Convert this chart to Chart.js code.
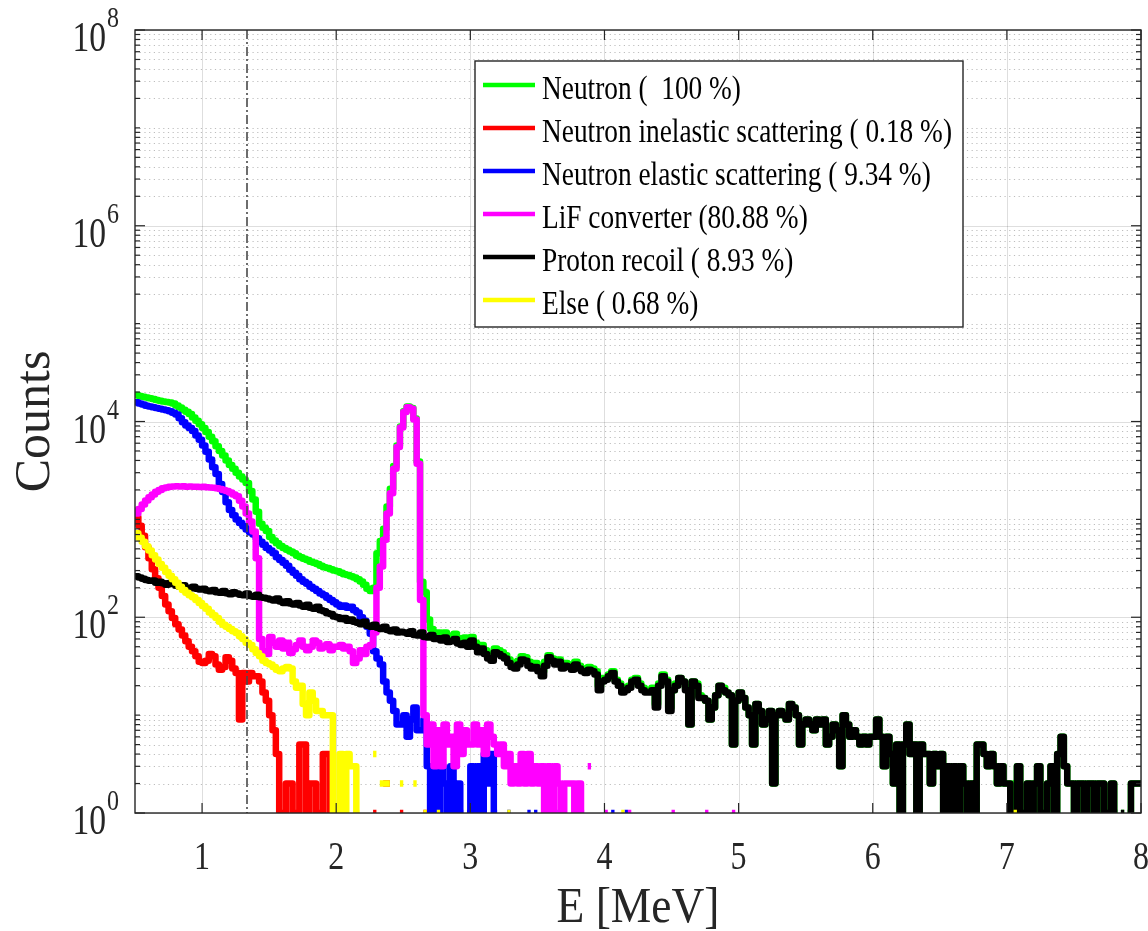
<!DOCTYPE html>
<html><head><meta charset="utf-8">
<script src="https://cdn.jsdelivr.net/npm/chart.js@4/dist/chart.umd.min.js"></script>
<style>html,body{margin:0;padding:0;background:#fff}canvas{display:block}</style>
</head><body>
<canvas id="c" width="1148" height="931"></canvas>
<script>
// ---- axes / bins ----
const BIN_START = 0.5;
const BIN_WIDTH = 0.025;
const X_MIN = 0.5, X_MAX = 8;
const Y_MIN = 1, Y_MAX = 1e8;
const X_TICKS = [1, 2, 3, 4, 5, 6, 7, 8];
const Y_TICK_EXPONENTS = [0, 2, 4, 6, 8];
const THRESHOLD_E = 1.335;
const X_TITLE = 'E [MeV]';
const Y_TITLE = 'Counts';

const seriesNames = [
  'Neutron (  100 %)',
  'Neutron inelastic scattering ( 0.18 %)',
  'Neutron elastic scattering ( 9.34 %)',
  'LiF converter (80.88 %)',
  'Proton recoil ( 8.93 %)',
  'Else ( 0.68 %)'
];
const seriesColors = ['#00ff00', '#ff0000', '#0000ff', '#ff00ff', '#000000', '#ffff00'];

// counts per 0.025 MeV bin starting at 0.5 MeV (null = empty bin)
const neutron = [
18600,18200,17900,17600,17300,17000,16600,16300,16000,15800,15600,15300,14600,13900,13200,12600,11900,11000,10200,9400,
8600,7800,7000,6300,5600,5000,4500,4000,3600,3300,3000,2750,2550,2350,1950,1600,1200,900,820,760,
660,610,570,535,510,490,470,450,425,410,395,385,370,360,350,335,325,318,310,300,
295,285,275,270,262,255,245,232,215,195,185,200,450,600,800,1350,2050,3500,5700,8900,
12700,14200,13700,10700,3900,230,180,95,76,70,70,66,70,63,64,68,61,58,62,57,
63,55,49,52,46,42,40,48,46,44,41,37,34,33,36,40,39,35,33,34,
31,28,35,41,38,35,37,33,34,33,31,35,32,30,29,31,30,28,20,24,
24,26,28,23,21,18,19,20,23,24,21,19,18,18,19,13,21,26,23,12,
18,21,24,22,19,8,22,21,16,15,14,9,12,16,20,19,17,16,5,14,
17,15,12,10,5,13,11,8,9,11,2,10,11,10,9,13,12,10,5,8,
9,8,7,9,8,9,5,6,8,7,3,10,8,6,7,6,5,6,5,6,
6,9,6,3,6,4,2,5,1,5,8,4,5,1,5,4,4,2,4,3,
4,1,3,1,3,1,3,2,1,2,1,5,5,4,3,4,3,2,3,2,
2,1,2,3,1,1,2,1,2,3,1,1,2,3,1,4,6,3,2,2,
1,2,2,1,2,2,1,2,2,1,1,2,1,null,1,null,1,2,2,2
];
const inelastic = [
1050,860,680,520,400,310,250,200,165,135,115,98,85,75,65,57,50,45,40,35,
34,36,42,40,33,29,31,39,36,30,27,9,27,22,27,25,25,22,17,14,
10,7,4,1,1,2,2,1,1,5,5,1,2,2,1,1,4,4,1,null,
null,null,null,null,null,null,null,null,null,null,null,1,null,null,2,2,null,null,null,1,
null,null,null,null,null,null,1,null,null,null,null,null,null,null,null,null,null,null,null,null,
null,null,null,null,null,null,null,null,null,null,null,null,null,null,null,null,null,null,null,null,
null,null,null,null,null,null,null,null,null,null,null,null,null,null,null,null,null,null,null,null,
null,null,null,null,null,null,null,null,null,null,null,null,null,null,null,null,null,null,null,null,
null,null,null,null,null,null,null,null,null,null,null,null,null,null,null,null,null,null,null,null,
null,null,null,null,null,null,null,null,null,null,null,null,null,null,null,null,null,null,null,null,
null,null,null,null,null,null,null,null,null,null,null,null,null,null,null,null,null,null,null,null,
null,null,null,null,null,null,null,null,null,null,null,null,null,null,null,null,null,null,null,null,
null,null,null,null,null,null,null,null,null,null,null,null,null,null,null,null,null,null,null,null,
null,null,null,null,null,null,null,null,null,null,null,null,null,null,null,null,null,null,null,null,
null,null,null,null,null,null,null,null,null,null,null,null,null,null,null,null,null,null,null,null
];
const elastic = [
15700,15300,14900,14500,14200,14000,13700,13500,13300,13000,12700,12300,11800,10800,9800,9100,8600,8000,7200,6500,
5700,4900,4100,3400,2900,2300,1900,1500,1250,1100,1000,920,850,790,740,700,640,590,550,510,
480,450,410,385,360,335,305,285,265,245,230,220,205,195,185,175,168,158,150,142,
135,128,132,125,128,118,112,100,92,80,68,45,38,33,22,17,14,11,8,8,
10,6,9,12,7,7,9,3,1,3,1,3,2,1,3,1,2,1,null,1,
3,1,3,1,4,2,4,1,null,null,null,1,null,null,null,null,null,1,null,1,
null,null,null,null,null,1,null,null,null,null,null,null,null,null,null,null,null,null,null,null,
null,null,1,null,null,null,1,null,null,null,null,null,null,null,null,null,null,null,null,null,
null,null,null,null,null,null,null,null,null,null,null,null,null,null,null,null,null,null,null,null,
null,null,null,null,null,null,null,null,null,null,null,null,null,null,null,null,null,null,null,null,
null,null,null,null,null,null,null,null,null,null,null,null,null,null,null,null,null,null,null,null,
null,null,null,null,null,null,null,null,null,null,null,null,null,null,null,null,null,null,null,null,
null,null,null,null,null,null,null,null,null,null,null,null,null,null,null,null,null,null,null,null,
null,null,null,null,null,null,null,null,null,null,null,null,null,null,null,null,null,null,null,null,
null,null,null,null,null,null,null,null,null,null,null,null,null,null,null,null,null,null,null,null
];
const lif = [
1150,1280,1420,1560,1680,1800,1920,2000,2080,2120,2150,2170,2180,2170,2180,2160,2170,2150,2160,2140,
2150,2130,2120,2100,2080,2040,2000,1950,1880,1800,1720,1550,1350,1150,950,750,400,60,45,42,
63,55,50,58,48,55,43,47,52,58,50,46,50,58,55,48,50,53,46,50,
50,52,48,50,45,34,38,46,42,50,52,70,200,330,620,1150,1850,3300,5500,8700,
12500,14000,13500,10500,3700,150,10,5,8,3,7,3,8,5,6,3,8,4,7,5,
5,8,5,7,4,8,6,5,4,5,3,4,2,3,2,4,2,4,2,3,
2,3,1,3,1,3,2,1,2,2,2,1,2,1,null,3,null,null,null,null,
1,null,null,null,null,null,null,1,null,null,null,null,null,null,null,null,null,null,null,null,
1,null,null,null,null,null,null,null,null,null,1,null,null,null,null,null,null,null,1,null,
null,null,null,null,null,null,null,null,null,null,null,null,null,null,null,null,null,null,null,null,
null,null,null,null,null,null,null,null,null,null,null,null,null,null,null,null,null,null,null,null,
null,null,null,null,null,null,null,null,null,null,null,null,null,null,null,null,null,null,null,null,
null,null,null,null,null,null,null,null,null,null,null,null,null,null,null,null,null,null,null,null,
null,null,null,null,null,null,null,null,null,null,null,null,null,null,null,null,null,null,null,null,
null,null,null,null,null,null,null,null,null,null,null,null,null,null,null,null,null,null,null,null
];
const protonRecoil = [
262,255,248,240,236,238,225,230,222,215,224,218,210,205,212,200,198,205,195,192,
195,188,184,190,180,178,185,176,172,180,175,170,168,175,165,162,170,160,158,155,
152,148,155,145,140,146,138,135,140,132,128,134,125,122,128,118,115,110,108,102,
100,96,98,92,95,90,88,85,90,82,80,84,78,76,80,74,72,75,70,71,
70,68,72,66,65,70,63,62,66,60,61,58,62,56,57,60,54,52,55,50,
58,50,44,48,42,38,36,44,42,40,38,34,31,30,33,37,36,32,30,31,
28,25,32,39,36,33,35,30,32,31,29,33,30,28,27,29,28,26,18,22,
23,25,27,22,20,17,18,19,22,23,20,18,17,17,18,12,20,25,22,11,
18,20,24,22,18,8,22,20,15,15,14,9,12,16,20,18,17,16,5,14,
17,15,12,10,5,13,11,8,9,11,2,10,11,10,9,13,12,10,5,8,
9,8,7,9,8,9,5,6,8,7,3,10,8,6,7,6,5,6,5,6,
6,9,6,3,6,4,2,5,1,5,8,4,5,1,5,4,4,2,4,3,
4,1,3,1,3,1,3,2,1,2,1,5,5,4,3,4,3,2,3,2,
2,1,1,3,1,1,2,1,2,3,1,1,2,3,1,4,6,3,2,2,
1,2,2,1,2,2,1,2,2,1,1,2,1,null,1,null,1,2,2,2
];
const other = [
720,650,590,530,480,430,390,350,320,290,265,245,225,205,190,178,168,160,150,140,
130,122,112,105,98,90,84,80,76,72,69,64,60,55,52,47,43,40,36,34,
33,31,29,28,30,31,30,22,19,20,13,10,17,14,11,11,10,10,10,1,
1,4,1,4,3,3,1,null,null,null,null,4,null,2,2,2,null,null,null,2,
null,null,null,2,null,null,1,null,null,null,1,null,null,null,null,null,null,null,null,null,
null,null,null,null,null,null,null,null,null,null,null,1,null,null,null,null,null,null,null,null,
null,null,null,null,null,null,null,null,null,null,null,null,null,null,null,null,null,null,null,null,
null,null,null,null,null,1,null,null,null,null,null,null,null,null,null,null,null,null,null,null,
null,null,null,null,null,null,null,null,null,null,null,null,null,null,null,null,null,null,null,null,
null,null,null,null,null,null,null,null,null,null,null,null,null,null,null,null,null,null,null,null,
null,null,null,null,null,null,null,null,null,null,null,null,null,null,null,null,null,null,null,null,
null,null,null,null,null,null,null,null,null,null,null,null,null,null,null,null,null,null,null,null,
null,null,null,null,null,null,null,null,null,null,null,null,null,null,null,null,null,null,null,null,
null,null,1,null,null,null,null,null,null,null,null,null,null,null,null,null,null,null,null,null,
null,null,null,null,null,null,null,null,null,null,null,null,null,null,null,null,null,null,null,null
];
const seriesValues = [neutron, inelastic, elastic, lif, protonRecoil, other];

// ---- build stairs points from bin values ----
function stairs(vals) {
  const pts = [];
  vals.forEach((v, i) => {
    const x0 = BIN_START + i * BIN_WIDTH, x1 = BIN_START + (i + 1) * BIN_WIDTH;
    if (v == null) { pts.push({ x: x0 + BIN_WIDTH / 2, y: null }); return; }
    pts.push({ x: x0, y: v }, { x: x1, y: v });
  });
  return pts;
}

const SERIF = '"Liberation Serif", "Times New Roman", serif';
const AXIS_COLOR = '#262626';

function txt(ctx, s, x, y, size, align, sx) {
  ctx.save();
  ctx.font = size + 'px ' + SERIF;
  ctx.translate(x, y);
  ctx.scale(sx, 1);
  ctx.textAlign = align;
  ctx.textBaseline = 'alphabetic';
  ctx.fillText(s, 0, 0);
  ctx.restore();
}
function seg(ctx, x0, y0, x1, y1) { ctx.beginPath(); ctx.moveTo(x0, y0); ctx.lineTo(x1, y1); ctx.stroke(); }

const decor = {
  id: 'decor',
  beforeDraw(chart) {
    const ctx = chart.ctx;
    ctx.save(); ctx.fillStyle = '#fff'; ctx.fillRect(0, 0, chart.width, chart.height); ctx.restore();
  },
  beforeDatasetsDraw(chart) {
    const { ctx, chartArea: a, scales: { x, y } } = chart;
    ctx.save();
    ctx.lineWidth = 1;
    // minor y grid (dotted)
    ctx.strokeStyle = 'rgba(0,0,0,0.26)';
    ctx.setLineDash([1.2, 3.5]);
    for (let e = 0; e < 8; e++) {
      for (let m = 1; m < 10; m++) {
        if (m === 1 && e % 2 === 0) continue;
        const py = Math.round(y.getPixelForValue(m * Math.pow(10, e))) + 0.5;
        seg(ctx, a.left, py, a.right, py);
      }
    }
    ctx.setLineDash([]);
    // major grid
    ctx.strokeStyle = 'rgba(0,0,0,0.13)';
    Y_TICK_EXPONENTS.forEach(e => {
      const py = Math.round(y.getPixelForValue(Math.pow(10, e))) + 0.5;
      seg(ctx, a.left, py, a.right, py);
    });
    X_TICKS.forEach(v => {
      const px = Math.round(x.getPixelForValue(v)) + 0.5;
      seg(ctx, px, a.top, px, a.bottom);
    });
    ctx.restore();
  },
  afterDatasetsDraw(chart) {
    const { ctx, chartArea: a, scales: { x, y } } = chart;
    ctx.save();
    // threshold dash-dot line
    ctx.strokeStyle = '#4a4a4a';
    ctx.lineWidth = 1.6;
    ctx.setLineDash([9, 3, 2, 3]);
    const tx = x.getPixelForValue(THRESHOLD_E);
    seg(ctx, tx, a.top, tx, a.bottom);
    ctx.setLineDash([]);

    // axes box
    ctx.strokeStyle = AXIS_COLOR;
    ctx.lineWidth = 1.4;
    ctx.strokeRect(a.left, a.top, a.right - a.left, a.bottom - a.top);

    // ticks
    ctx.lineWidth = 1.2;
    const MAJ = 10, MIN = 5;
    X_TICKS.forEach(v => {
      const px = x.getPixelForValue(v);
      seg(ctx, px, a.bottom, px, a.bottom - MAJ);
      seg(ctx, px, a.top, px, a.top + MAJ);
    });
    for (let e = 0; e <= 8; e++) {
      for (let m = 1; m < 10; m++) {
        if (e === 8 && m > 1) break;
        const py = y.getPixelForValue(m * Math.pow(10, e));
        const len = (m === 1 && e % 2 === 0) ? MAJ : MIN;
        seg(ctx, a.left, py, a.left + len, py);
        seg(ctx, a.right, py, a.right - len, py);
      }
    }

    // tick labels
    ctx.fillStyle = AXIS_COLOR;
    const SX = 0.8;
    X_TICKS.forEach(v => {
      const px = x.getPixelForValue(v);
      txt(ctx, String(v), px, 869, 40, 'center', SX);
    });
    Y_TICK_EXPONENTS.forEach(e => {
      const py = y.getPixelForValue(Math.pow(10, e));
      ctx.font = '30px ' + SERIF;
      const we = ctx.measureText(String(e)).width * SX;
      const right = 119;
      txt(ctx, String(e), right - we, py - 3, 30, 'left', SX);
      txt(ctx, '10', right - we - 1, py + 21, 42, 'right', SX);
    });

    // axis titles
    txt(ctx, X_TITLE, (a.left + a.right) / 2, 922, 50, 'center', 0.91);
    ctx.save();
    ctx.translate(49, (a.top + a.bottom) / 2);
    ctx.rotate(-Math.PI / 2);
    txt(ctx, Y_TITLE, 0, 0, 50, 'center', 1.0);
    ctx.restore();

    // legend
    const LX0 = 475, LY0 = 61, LX1 = 963, LY1 = 327;
    ctx.fillStyle = '#fff';
    ctx.fillRect(LX0, LY0, LX1 - LX0, LY1 - LY0);
    ctx.strokeStyle = AXIS_COLOR;
    ctx.lineWidth = 1.4;
    ctx.strokeRect(LX0, LY0, LX1 - LX0, LY1 - LY0);
    ctx.font = '33px ' + SERIF;
    const longest = Math.max(...seriesNames.map(s => ctx.measureText(s).width));
    const lsx = 410 / longest;
    seriesNames.forEach((name, i) => {
      const ly = 85 + i * 43;
      ctx.strokeStyle = seriesColors[i];
      ctx.lineWidth = 4.5;
      seg(ctx, 483, ly, 535, ly);
      ctx.fillStyle = '#000';
      txt(ctx, name, 542, ly + 13.5, 33, 'left', lsx);
    });
    ctx.restore();
  }
};

const ORDER = [6, 5, 4, 3, 2, 1];
const datasets = seriesValues.map((vals, i) => ({
  label: seriesNames[i],
  data: stairs(vals),
  borderColor: seriesColors[i],
  backgroundColor: seriesColors[i],
  borderWidth: 6.5,
  borderJoinStyle: 'round',
  borderCapStyle: 'butt',
  pointRadius: 0,
  fill: false,
  tension: 0,
  spanGaps: false,
  clip: 0,
  order: ORDER[i]
}));

new Chart(document.getElementById('c'), {
  type: 'line',
  data: { datasets },
  options: {
    responsive: false,
    animation: false,
    devicePixelRatio: 1,
    layout: { padding: { left: 135, top: 30, right: 7, bottom: 118 } },
    plugins: { legend: { display: false }, tooltip: { enabled: false } },
    elements: { line: { borderWidth: 6.5 } },
    scales: {
      x: { type: 'linear', min: X_MIN, max: X_MAX, display: false },
      y: { type: 'logarithmic', min: Y_MIN, max: Y_MAX, display: false }
    }
  },
  plugins: [decor]
});
</script>
</body></html>
